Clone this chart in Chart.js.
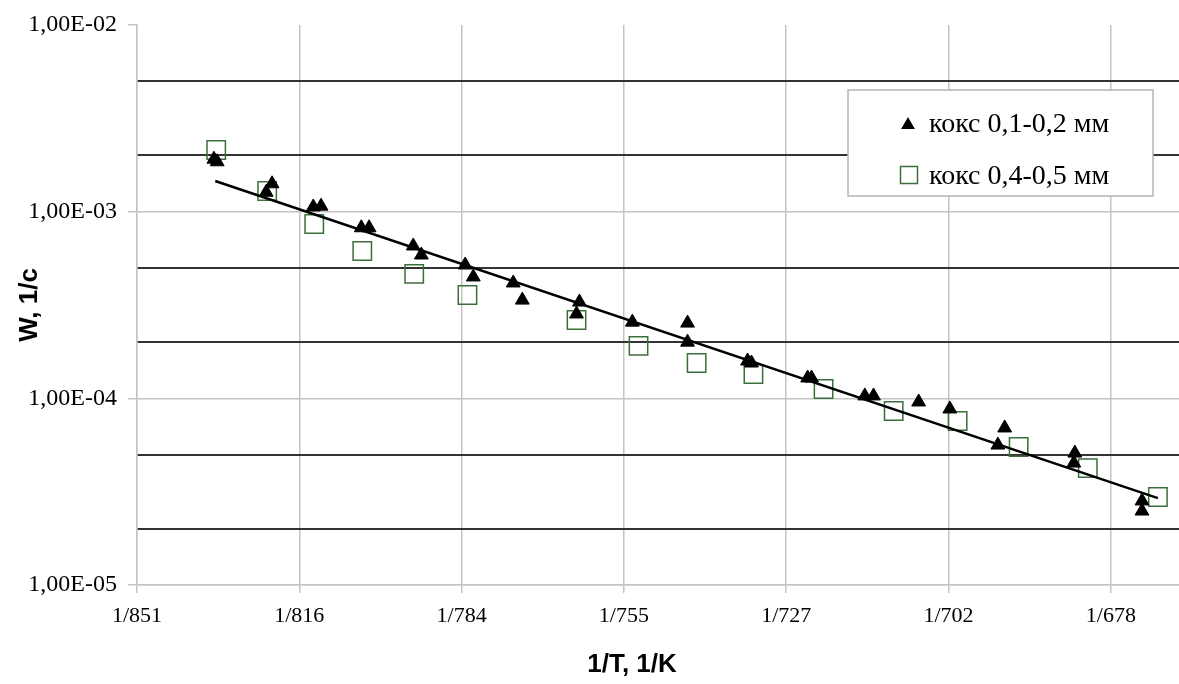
<!DOCTYPE html>
<html><head><meta charset="utf-8">
<script src="https://cdn.jsdelivr.net/npm/chart.js@4.4.0/dist/chart.umd.min.js"></script>
<style>html,body{margin:0;padding:0;background:#fff}#wrap{width:1179px;height:684px;position:relative}</style>
</head><body><div id="wrap"><canvas id="c" width="1179" height="684"></canvas></div>
<script>
// Series 1: кокс 0,1-0,2 мм  (x = 1/T, 1/K ; y = W, 1/c)
const series1Name = 'кокс 0,1-0,2 мм';
const s1InvT = [0.0011987, 0.0011997, 0.0012148, 0.0012166, 0.0012293, 0.0012317, 0.0012441, 0.0012465,
  0.0012601, 0.0012626, 0.0012761, 0.0012786, 0.0012909, 0.0012937, 0.0013104, 0.0013113,
  0.0013276, 0.0013446, 0.0013446, 0.0013631, 0.0013643, 0.0013816, 0.0013828, 0.0013992,
  0.0014019, 0.0014158, 0.0014254, 0.0014402, 0.0014423, 0.0014636, 0.0014639, 0.0014846, 0.0014846];
const s1W = [1.91e-3, 1.85e-3, 1.27e-3, 1.41e-3, 1.06e-3, 1.07e-3, 8.2e-4, 8.2e-4,
  6.55e-4, 5.86e-4, 5.18e-4, 4.47e-4, 4.15e-4, 3.36e-4, 2.83e-4, 3.28e-4,
  2.56e-4, 2.53e-4, 2.00e-4, 1.585e-4, 1.546e-4, 1.285e-4, 1.285e-4, 1.03e-4,
  1.03e-4, 9.56e-5, 8.77e-5, 5.62e-5, 6.94e-5, 4.50e-5, 5.09e-5, 2.49e-5, 2.82e-5];

// Series 2: кокс 0,4-0,5 мм
const series2Name = 'кокс 0,4-0,5 мм';
const s2InvT = [0.0011994, 0.0012151, 0.0012296, 0.0012444, 0.0012604, 0.0012768, 0.0013104, 0.0013295,
  0.0013474, 0.0013649, 0.0013865, 0.0014081, 0.0014278, 0.0014466, 0.0014679, 0.0014895];
const s2W = [2.14e-3, 1.29e-3, 8.59e-4, 6.16e-4, 4.64e-4, 3.58e-4, 2.63e-4, 1.91e-4,
  1.546e-4, 1.35e-4, 1.122e-4, 8.56e-5, 7.56e-5, 5.49e-5, 4.23e-5, 2.96e-5];

// Trend line (exponential fit, straight on log axis) end points
const trendInvT = [0.0011991, 0.0014895];
const trendW = [1.46e-3, 2.92e-5];

// Axis ticks
const xTickValues = [0.001175, 0.001225, 0.001275, 0.001325, 0.001375, 0.001425, 0.001475];
const xTickLabels = ['1/851', '1/816', '1/784', '1/755', '1/727', '1/702', '1/678'];
const yMajorValues = [1e-5, 1e-4, 1e-3, 1e-2];
const yTickLabels = ['1,00E-05', '1,00E-04', '1,00E-03', '1,00E-02'];
const yMinorValues = [2e-5, 5e-5, 2e-4, 5e-4, 2e-3, 5e-3];

const xTitle = '1/T, 1/K';
const yTitle = 'W, 1/c';

const toPts = (xs, ys) => xs.map((x, i) => ({x: x, y: ys[i]}));
const isMajor = v => yMajorValues.some(m => Math.abs(m - v) / m < 1e-6);
const isTop = v => Math.abs(v - 1e-2) / 1e-2 < 1e-6;

const SERIF = '"Liberation Serif", "Times New Roman", serif';
const SANS = '"Liberation Sans", Arial, sans-serif';
const GREEN = '#3c6e3c';

const overlay = {
  id: 'overlay',
  afterDraw(chart) {
    const ctx = chart.ctx;
    ctx.save();
    // axis titles
    ctx.fillStyle = '#000';
    ctx.font = 'bold 26px ' + SANS;
    ctx.textAlign = 'center';
    ctx.textBaseline = 'middle';
    ctx.fillText(xTitle, 632, 665);
    ctx.translate(30, 305);
    ctx.rotate(-Math.PI / 2);
    ctx.fillText(yTitle, 0, 0);
    ctx.restore();

    // legend
    ctx.save();
    ctx.fillStyle = '#fff';
    ctx.strokeStyle = '#b4b4b4';
    ctx.lineWidth = 1.5;
    ctx.fillRect(848, 90, 305, 106);
    ctx.strokeRect(848, 90, 305, 106);
    // triangle marker
    const r = 8;
    ctx.fillStyle = '#000';
    ctx.beginPath();
    ctx.moveTo(908, 125 - r);
    ctx.lineTo(908 + r * 0.866, 125 + r / 2);
    ctx.lineTo(908 - r * 0.866, 125 + r / 2);
    ctx.closePath();
    ctx.fill();
    // square marker
    ctx.strokeStyle = GREEN;
    ctx.lineWidth = 1.5;
    ctx.strokeRect(900.5, 166.5, 17, 17);
    ctx.fillStyle = '#000';
    ctx.font = '28px ' + SERIF;
    ctx.textAlign = 'left';
    ctx.textBaseline = 'middle';
    ctx.fillText(series1Name, 929, 125);
    ctx.fillText(series2Name, 929, 177);
    ctx.restore();
  }
};

new Chart(document.getElementById('c'), {
  type: 'scatter',
  data: {
    datasets: [
      {
        label: 'trend', type: 'line', data: toPts(trendInvT, trendW),
        borderColor: '#000', borderWidth: 2.5, pointRadius: 0, showLine: true, fill: false, order: 0
      },
      {
        label: series1Name, data: toPts(s1InvT, s1W), pointStyle: 'triangle', pointRadius: 8,
        backgroundColor: '#000', borderColor: '#000', borderWidth: 1, order: 1
      },
      {
        label: series2Name, data: toPts(s2InvT, s2W), pointStyle: 'rect', pointRadius: 13,
        backgroundColor: 'rgba(0,0,0,0)', borderColor: GREEN, borderWidth: 1.5, order: 2
      }
    ]
  },
  options: {
    responsive: false,
    devicePixelRatio: 1,
    animation: false,
    layout: { autoPadding: false, padding: { top: 25, right: 0, left: 0, bottom: 0 } },
    plugins: { legend: { display: false }, tooltip: { enabled: false } },
    scales: {
      x: {
        type: 'linear', min: 0.001175, max: 0.001496,
        afterBuildTicks: s => { s.ticks = xTickValues.map(v => ({ value: v })); },
        afterFit: s => { s.height = 99; s.paddingRight = 0; s.paddingLeft = 0; },
        ticks: {
          callback: (v, i) => xTickLabels[i], autoSkip: false, maxRotation: 0, minRotation: 0,
          font: { family: SERIF, size: 22 }, color: '#000', padding: 10
        },
        grid: { color: '#c4c4c4', lineWidth: 1.5, tickLength: 8, tickColor: '#c4c4c4' },
        border: { display: true, color: '#c4c4c4', width: 1.5 }
      },
      y: {
        type: 'logarithmic', min: 1e-5, max: 1e-2,
        afterBuildTicks: s => {
          s.ticks = yMajorValues.concat(yMinorValues).sort((a, b) => a - b).map(v => ({ value: v }));
        },
        afterFit: s => { s.width = 137; s.paddingTop = 0; s.paddingBottom = 0; },
        ticks: {
          callback: v => { const k = yMajorValues.findIndex(m => Math.abs(m - v) / m < 1e-6); return k >= 0 ? yTickLabels[k] : ''; },
          autoSkip: false, font: { family: SERIF, size: 24 }, color: '#000', padding: 11
        },
        grid: {
          color: c => !c.tick ? '#c4c4c4' : (isTop(c.tick.value) ? 'rgba(0,0,0,0)' : (isMajor(c.tick.value) ? '#c4c4c4' : '#333')),
          lineWidth: c => (c.tick && isMajor(c.tick.value)) ? 1.5 : 2,
          tickLength: 9,
          tickColor: c => (c.tick && isMajor(c.tick.value)) ? '#c4c4c4' : 'rgba(0,0,0,0)'
        },
        border: { display: true, color: '#c4c4c4', width: 1.5 }
      }
    }
  },
  plugins: [overlay]
});
</script>
</body></html>
